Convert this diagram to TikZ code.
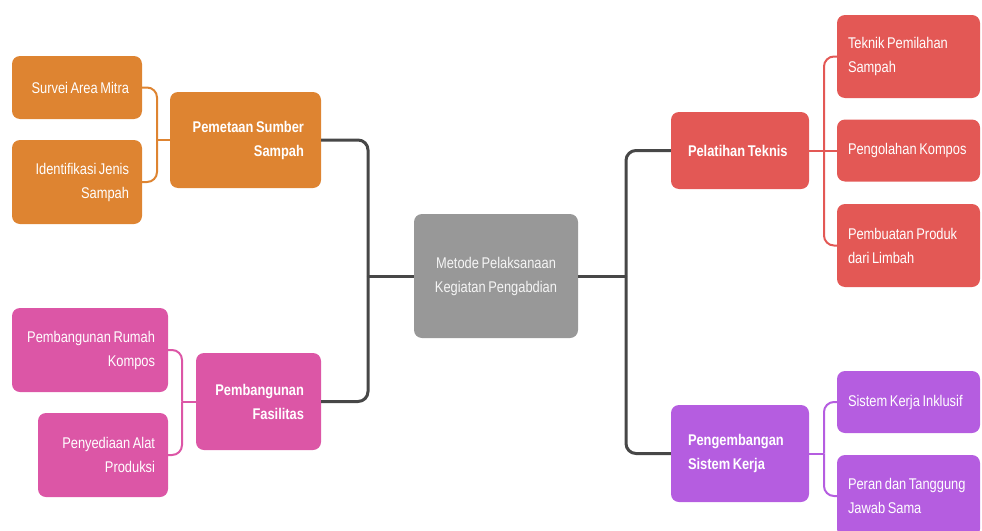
\documentclass[tikz,border=0pt]{standalone}
\usepackage{fontspec}
\setmainfont{Liberation Sans}[FakeStretch=0.83]
\newcommand\rapat{\spaceskip=2.6pt plus 0pt\xspaceskip=2.6pt\hyphenpenalty=10000\relax}

\definecolor{oranye}{HTML}{DE8431}
\definecolor{merahmuda}{HTML}{DC56A6}
\definecolor{merah}{HTML}{E35855}
\definecolor{ungu}{HTML}{B55DE0}
\definecolor{abu}{HTML}{989898}
\definecolor{garis}{HTML}{474747}

\begin{document}
\begin{tikzpicture}[x=1pt, y=-1pt,
    kotak/.style={rounded corners=8pt, text=white, inner ysep=0pt,
        font=\fontsize{15.5}{24}\selectfont, execute at begin node=\rapat},
    kiri/.style={kotak, align=right, inner xsep=13pt},
    kanan/.style={kotak, align=left, inner xsep=11pt},
    cabang/.style={font=\fontsize{15.5}{24}\selectfont\bfseries, inner xsep=17pt},
    batang/.style={draw=garis, line width=3pt, rounded corners=10pt},
    ranting/.style={line width=2pt, rounded corners=10pt}]
    \clip (0,0) rectangle (982,530);

    % Pusat
    \node[kotak, fill=abu, align=center, text=white!92!gray, text width=150pt,
        inner xsep=7pt, minimum height=124pt] (metode) at (496,276)
        {Metode Pelaksanaan\\Kegiatan Pengabdian};

    % Cabang kiri
    \node[kiri, cabang, fill=oranye, text width=117pt, minimum height=96pt]
        (pemetaan) at (245.5,140) {Pemetaan Sumber\\Sampah};
    \node[kiri, cabang, fill=merahmuda, text width=91pt, minimum height=97pt]
        (fasilitas) at (258.5,401.5) {Pembangunan\\Fasilitas};

    \node[kiri, fill=oranye, text width=104pt, minimum height=63pt]
        (survei) at (77,87.5) {Survei Area Mitra};
    \node[kiri, fill=oranye, text width=104pt, minimum height=84pt]
        (identifikasi) at (77,182) {Identifikasi Jenis\\Sampah};
    \node[kiri, fill=merahmuda, text width=130pt, minimum height=84pt]
        (rumah) at (90,350) {Pembangunan Rumah\\Kompos};
    \node[kiri, fill=merahmuda, text width=104pt, minimum height=84pt]
        (alat) at (103,455) {Penyediaan Alat\\Produksi};

    % Cabang kanan
    \node[kanan, cabang, fill=merah, text width=104pt, minimum height=77pt]
        (pelatihan) at (740,150.5) {Pelatihan Teknis};
    \node[kanan, cabang, fill=ungu, text width=104pt, minimum height=97pt]
        (pengembangan) at (740,453.5) {Pengembangan\\Sistem Kerja};

    \node[kanan, fill=merah, text width=121pt, minimum height=83pt]
        (teknik) at (908.5,56.5) {Teknik Pemilahan\\Sampah};
    \node[kanan, fill=merah, text width=121pt, minimum height=62pt]
        (pengolahan) at (908.5,150.5) {Pengolahan Kompos};
    \node[kanan, fill=merah, text width=121pt, minimum height=83pt]
        (pembuatan) at (908.5,245.5) {Pembuatan Produk\\dari Limbah};
    \node[kanan, fill=ungu, text width=121pt, minimum height=62pt]
        (inklusif) at (908.5,402) {Sistem Kerja Inklusif};
    \node[kanan, fill=ungu, text width=121pt, minimum height=82pt]
        (peran) at (908.5,496) {Peran dan Tanggung\\Jawab Sama};

    % Titik cabang
    \coordinate (kirij) at (368,276);
    \coordinate (kananj) at (626,276);
    \coordinate (oj) at (157,140);
    \coordinate (mj) at (182,401.5);
    \coordinate (rj) at (824,150.5);
    \coordinate (uj) at (824,453.5);

    % Garis utama
    \draw[batang] (pemetaan.east) -| (kirij);
    \draw[batang] (fasilitas.east) -| (kirij);
    \draw[batang] (kirij) -- (metode.west);
    \draw[batang] (pelatihan.west) -| (kananj);
    \draw[batang] (pengembangan.west) -| (kananj);
    \draw[batang] (kananj) -- (metode.east);

    % Garis anak
    \draw[ranting, draw=oranye] (survei.east) -| (oj);
    \draw[ranting, draw=oranye] (identifikasi.east) -| (oj);
    \draw[ranting, draw=oranye] (oj) -- (pemetaan.west);
    \draw[ranting, draw=merahmuda] (rumah.east) -| (mj);
    \draw[ranting, draw=merahmuda] (alat.east) -| (mj);
    \draw[ranting, draw=merahmuda] (mj) -- (fasilitas.west);
    \draw[ranting, draw=merah] (teknik.west) -| (rj);
    \draw[ranting, draw=merah] (pembuatan.west) -| (rj);
    \draw[ranting, draw=merah] (pelatihan.east) -- (pengolahan.west);
    \draw[ranting, draw=ungu] (inklusif.west) -| (uj);
    \draw[ranting, draw=ungu] (peran.west) -| (uj);
    \draw[ranting, draw=ungu] (uj) -- (pengembangan.east);
\end{tikzpicture}
\end{document}
